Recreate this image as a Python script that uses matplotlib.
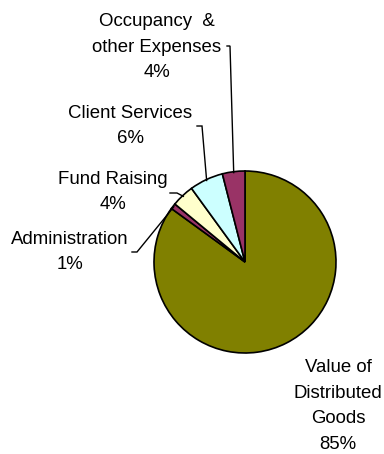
import numpy as np
import matplotlib
matplotlib.use("Agg")
import matplotlib.pyplot as plt

plt.rcParams['font.family'] = ['Liberation Sans', 'DejaVu Sans']

labels = ["Value of\nDistributed\nGoods", "Administration", "Fund Raising",
          "Client Services", "Occupancy  &\nother Expenses"]
shares = [85, 1, 4, 6, 4]
colors = ["#808000", "#993366", "#FFFFCC", "#CCFFFF", "#993366"]

# pie centre and radius in pixels of the 384x454 figure
W, H = 384, 454
CX, CY, R = 245, 262, 91


def px(x, y):
    return (x - CX) / R, (CY - y) / R


# label block centres (px) and leader start points (px, None = no leader)
label_pos = [(338, 406), (70, 252), (113, 192), (130, 126), (157, 47)]
leader_start = [None, (132, 252), (170, 193), (197, 126), (227, 46)]
leader_knee = [None, (137, 252), (177, 193), (202, 126), (230, 46)]


def main():
    fig = plt.figure(figsize=(W / 100, H / 100), dpi=100)
    ax = fig.add_axes([0, 0, 1, 1])
    wedges, _ = ax.pie(shares, colors=colors, startangle=90, counterclock=False,
                       radius=1, wedgeprops=dict(edgecolor='black', linewidth=1.2))
    ax.set_xlim(-CX / R, (W - CX) / R)
    ax.set_ylim(-(H - CY) / R, CY / R)
    ax.set_aspect('auto')
    ax.axis('off')

    for i, w in enumerate(wedges):
        tx, ty = px(*label_pos[i])
        ax.text(tx, ty, f"{labels[i]}\n{shares[i]}%", ha='center', va='center',
                fontsize=13.4, linespacing=1.68, color='black')
        if leader_start[i] is None:
            continue
        mid = np.deg2rad((w.theta1 + w.theta2) / 2)
        ex, ey = np.cos(mid) * 0.99, np.sin(mid) * 0.99
        sx, sy = px(*leader_start[i])
        kx, ky = px(*leader_knee[i])
        ax.plot([sx, kx, ex], [sy, ky, ey], color='black', lw=1.0,
                solid_joinstyle='miter')

    fig.savefig("out.png", dpi=100)


if __name__ == "__main__":
    main()
